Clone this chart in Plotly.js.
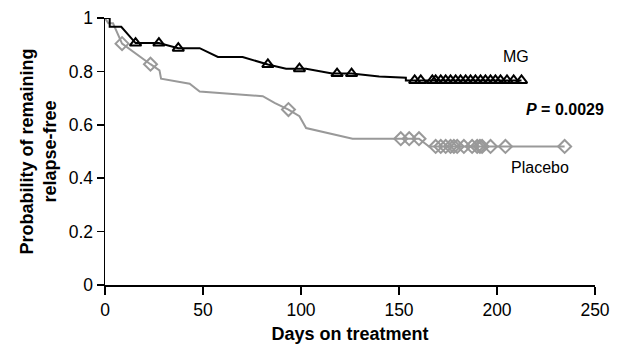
<!DOCTYPE html>
<html>
<head>
<meta charset="utf-8">
<script src="https://cdn.plot.ly/plotly-3.0.1.min.js"></script>
<style>html,body{margin:0;padding:0;background:#fff;}#chart{width:634px;height:344px;}</style>
</head>
<body>
<div id="chart"></div>
<script>
// MG Kaplan-Meier curve vertices
const mgDays = [0, 2.4, 2.4, 8.3, 15.6, 27.5, 37.4, 48.3, 57.6, 70.2, 83.1, 92.4, 102.6, 115.9, 125.8, 139.9, 153.5, 153.5, 212.5];
const mgSurv = [1.0, 1.0, 0.967, 0.967, 0.906, 0.906, 0.887, 0.887, 0.854, 0.854, 0.826, 0.810, 0.810, 0.792, 0.792, 0.781, 0.776, 0.766, 0.766];
// MG censored points
const mgCensDays = [15.6, 27.5, 37.4, 83.1, 99.2, 118.4, 125.8, 158.0, 161.1, 167.0, 168.7, 171.3, 173.8, 176.3, 178.9, 181.4, 184.0, 186.5, 189.0, 191.6, 194.1, 196.7, 199.2, 201.8, 205.1, 208.5, 212.5];
const mgCensSurv = [0.906, 0.906, 0.887, 0.826, 0.810, 0.792, 0.792, 0.766, 0.766, 0.766, 0.766, 0.766, 0.766, 0.766, 0.766, 0.766, 0.766, 0.766, 0.766, 0.766, 0.766, 0.766, 0.766, 0.766, 0.766, 0.766, 0.766];

// Placebo curve vertices
const plDays = [0, 1.7, 4.1, 8.7, 23.2, 27.8, 28.6, 43.2, 48.3, 80.5, 86.5, 93.6, 99.2, 102.6, 126.3, 160.2, 165.3, 234.5];
const plSurv = [1.0, 0.98, 0.98, 0.904, 0.827, 0.804, 0.773, 0.754, 0.725, 0.707, 0.682, 0.657, 0.632, 0.588, 0.548, 0.548, 0.519, 0.519];
// Placebo censored points
const plCensDays = [8.7, 23.2, 93.6, 150.9, 155.2, 160.2, 168.7, 171.3, 173.8, 176.3, 178.0, 179.7, 183.1, 187.3, 189.9, 191.3, 192.4, 196.7, 204.3, 234.5];
const plCensSurv = [0.904, 0.827, 0.657, 0.548, 0.548, 0.548, 0.519, 0.519, 0.519, 0.519, 0.519, 0.519, 0.519, 0.519, 0.519, 0.519, 0.519, 0.519, 0.519, 0.519];

const xTicks = [0, 50, 100, 150, 200, 250];
const yTicks = [0, 0.2, 0.4, 0.6, 0.8, 1];
const yTickText = ['0', '0.2', '0.4', '0.6', '0.8', '1'];

const gray = '#999999';
const font = 'Liberation Sans, Arial, sans-serif';

const traces = [
  {x: plDays, y: plSurv, mode: 'lines', line: {color: gray, width: 2}, cliponaxis: false},
  {x: plCensDays, y: plCensSurv, mode: 'markers', marker: {symbol: 'diamond-open', size: 10, color: gray, line: {color: gray, width: 2}}, cliponaxis: false},
  {x: mgDays, y: mgSurv, mode: 'lines', line: {color: '#000', width: 2}, cliponaxis: false},
  {x: mgCensDays, y: mgCensSurv, mode: 'markers', marker: {symbol: 'triangle-up-open', size: 10, color: '#000', line: {color: '#000', width: 2}}, cliponaxis: false}
];

const layout = {
  width: 634, height: 344,
  margin: {l: 105, r: 39, t: 18, b: 59},
  paper_bgcolor: '#fff', plot_bgcolor: '#fff',
  showlegend: false,
  font: {family: font, color: '#000'},
  xaxis: {
    range: [0, 250], tickvals: xTicks, ticks: 'outside', ticklen: 8, tickwidth: 1.5, tickcolor: '#000',
    showline: true, linecolor: '#000', linewidth: 1.5, showgrid: false, zeroline: false,
    tickfont: {size: 17.5, family: font},
    title: {text: '<b>Days on treatment</b>', font: {size: 18, family: font}, standoff: 9}
  },
  yaxis: {
    range: [0, 1], tickvals: yTicks, ticktext: yTickText, ticks: 'outside', ticklen: 7, tickwidth: 1.5, tickcolor: '#000',
    showline: true, linecolor: '#000', linewidth: 1.5, showgrid: false, zeroline: false,
    tickfont: {size: 17.5, family: font},
    title: {text: '<b>Probability of remaining<br>relapse-free</b>', font: {size: 18, family: font}, standoff: 7}
  },
  annotations: [
    {x: 209.6, y: 0.856, xref: 'x', yref: 'y', text: 'MG', showarrow: false, font: {size: 16, family: font}},
    {x: 234.5, y: 0.657, xref: 'x', yref: 'y', text: '<b><i>P</i> = 0.0029</b>', showarrow: false, font: {size: 16, family: font}},
    {x: 222, y: 0.439, xref: 'x', yref: 'y', text: 'Placebo', showarrow: false, font: {size: 16, family: font}}
  ]
};

Plotly.newPlot('chart', traces, layout, {displayModeBar: false, staticPlot: true});
</script>
</body>
</html>
